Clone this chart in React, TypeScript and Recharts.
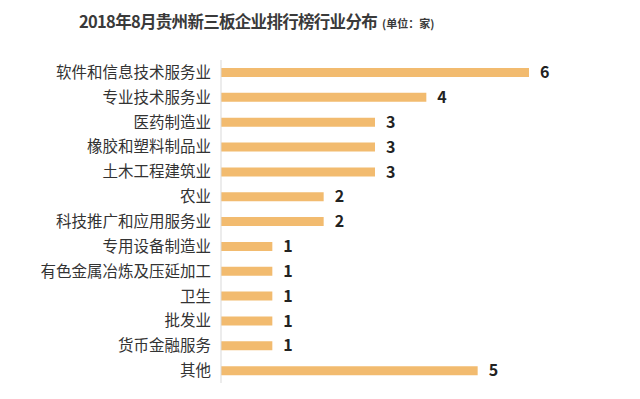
import { BarChart, Bar, XAxis, YAxis, LabelList } from 'recharts';

const categories = [
  '软件和信息技术服务业',
  '专业技术服务业',
  '医药制造业',
  '橡胶和塑料制品业',
  '土木工程建筑业',
  '农业',
  '科技推广和应用服务业',
  '专用设备制造业',
  '有色金属冶炼及压延加工',
  '卫生',
  '批发业',
  '货币金融服务',
  '其他',
];
const counts = [6, 4, 3, 3, 3, 2, 2, 1, 1, 1, 1, 1, 5];

const data = categories.map((name, i) => ({ name, value: counts[i] }));

const FONT = '"Noto Sans CJK SC", "Noto Sans", sans-serif';

export default function App() {
  return (
    <div style={{ position: 'absolute', left: 0, top: 0, width: 640, height: 399, background: '#fff', fontFamily: FONT }}>
      <div
        style={{
          position: 'absolute',
          left: 79,
          top: 9,
          whiteSpace: 'nowrap',
          color: '#3a3a3a',
          fontWeight: 'bold',
          fontSize: 16.5,
          letterSpacing: -0.7,
          lineHeight: '24px',
        }}
      >
        2018年8月贵州新三板企业排行榜行业分布
        <span style={{ fontSize: 11, fontWeight: 'bold', marginLeft: 5, letterSpacing: 0 }}>(单位：家)</span>
      </div>
      <BarChart
        width={640}
        height={399}
        data={data}
        layout="vertical"
        margin={{ top: 60, right: 111, bottom: 16, left: 0 }}
      >
        <XAxis type="number" domain={[0, 6]} hide />
        <YAxis
          type="category"
          dataKey="name"
          width={221}
          axisLine={{ stroke: '#d9d9d9' }}
          tickLine={false}
          tickMargin={4}
          interval={0}
          tick={{ fill: '#333', fontSize: 15.5, fontFamily: FONT }}
        />
        <Bar dataKey="value" fill="#F2BB6F" barSize={9} isAnimationActive={false}>
          <LabelList
            dataKey="value"
            position="right"
            offset={11}
            style={{ fill: '#222', fontSize: 16, fontWeight: 'bold', fontFamily: FONT }}
          />
        </Bar>
      </BarChart>
    </div>
  );
}
